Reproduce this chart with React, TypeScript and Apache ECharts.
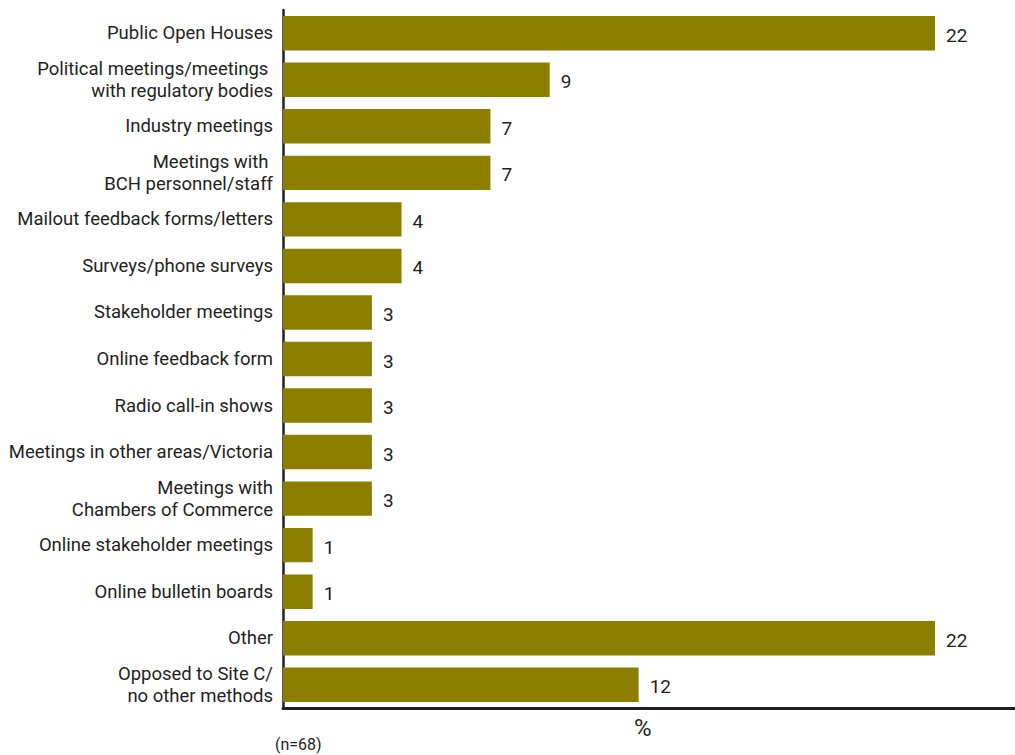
import React, { useEffect, useRef } from "react";
import * as echarts from "echarts";

const categories = [
  "Public Open Houses",
  "Political meetings/meetings \nwith regulatory bodies",
  "Industry meetings",
  "Meetings with \nBCH personnel/staff",
  "Mailout feedback forms/letters",
  "Surveys/phone surveys",
  "Stakeholder meetings",
  "Online feedback form",
  "Radio call-in shows",
  "Meetings in other areas/Victoria",
  "Meetings with\nChambers of Commerce",
  "Online stakeholder meetings",
  "Online bulletin boards",
  "Other",
  "Opposed to Site C/\nno other methods",
];
const values = [22, 9, 7, 7, 4, 4, 3, 3, 3, 3, 3, 1, 1, 22, 12];
const axisTitle = "%";
const note = "(n=68)";

const FONT = "Roboto, 'Noto Sans', sans-serif";
const TEXT = "#231f20";
const BAR = "#8c7f00";

export default function App() {
  const ref = useRef<HTMLDivElement>(null);
  useEffect(() => {
    if (!ref.current) return;
    const chart = echarts.init(ref.current, undefined, { renderer: "svg" });
    chart.setOption({
      animation: false,
      backgroundColor: "#ffffff",
      grid: {
        left: 283,
        right: 0,
        top: 10,
        bottom: 47,
        containLabel: false,
        outerBoundsMode: "none",
      },
      xAxis: {
        type: "value",
        min: 0,
        max: 24.7,
        axisLine: { show: true, lineStyle: { color: TEXT, width: 3 } },
        axisTick: { show: false },
        axisLabel: { show: false },
        splitLine: { show: false },
      },
      yAxis: {
        type: "category",
        inverse: true,
        data: categories,
        axisLine: { show: true, onZero: false, lineStyle: { color: TEXT, width: 2.5 } },
        axisTick: { show: false },
        axisLabel: {
          color: TEXT,
          fontFamily: FONT,
          fontSize: 18.5,
          lineHeight: 22,
          margin: 10,
          align: "right",
        },
      },
      series: [
        {
          type: "bar",
          data: values,
          barCategoryGap: "26%",
          itemStyle: { color: BAR },
          label: {
            show: true,
            position: "right",
            distance: 11,
            offset: [0, 2],
            color: TEXT,
            fontFamily: FONT,
            fontSize: 19,
          },
        },
      ],
      graphic: [
        {
          type: "text",
          left: 634,
          top: 716,
          style: { text: axisTitle, fill: TEXT, font: `24px ${FONT}` },
        },
        {
          type: "text",
          left: 275,
          top: 736,
          style: { text: note, fill: TEXT, font: `16px ${FONT}` },
        },
      ],
    });
    return () => chart.dispose();
  }, []);
  return (
    <div
      ref={ref}
      style={{ position: "fixed", left: 0, top: 0, width: 1015, height: 755 }}
    />
  );
}
